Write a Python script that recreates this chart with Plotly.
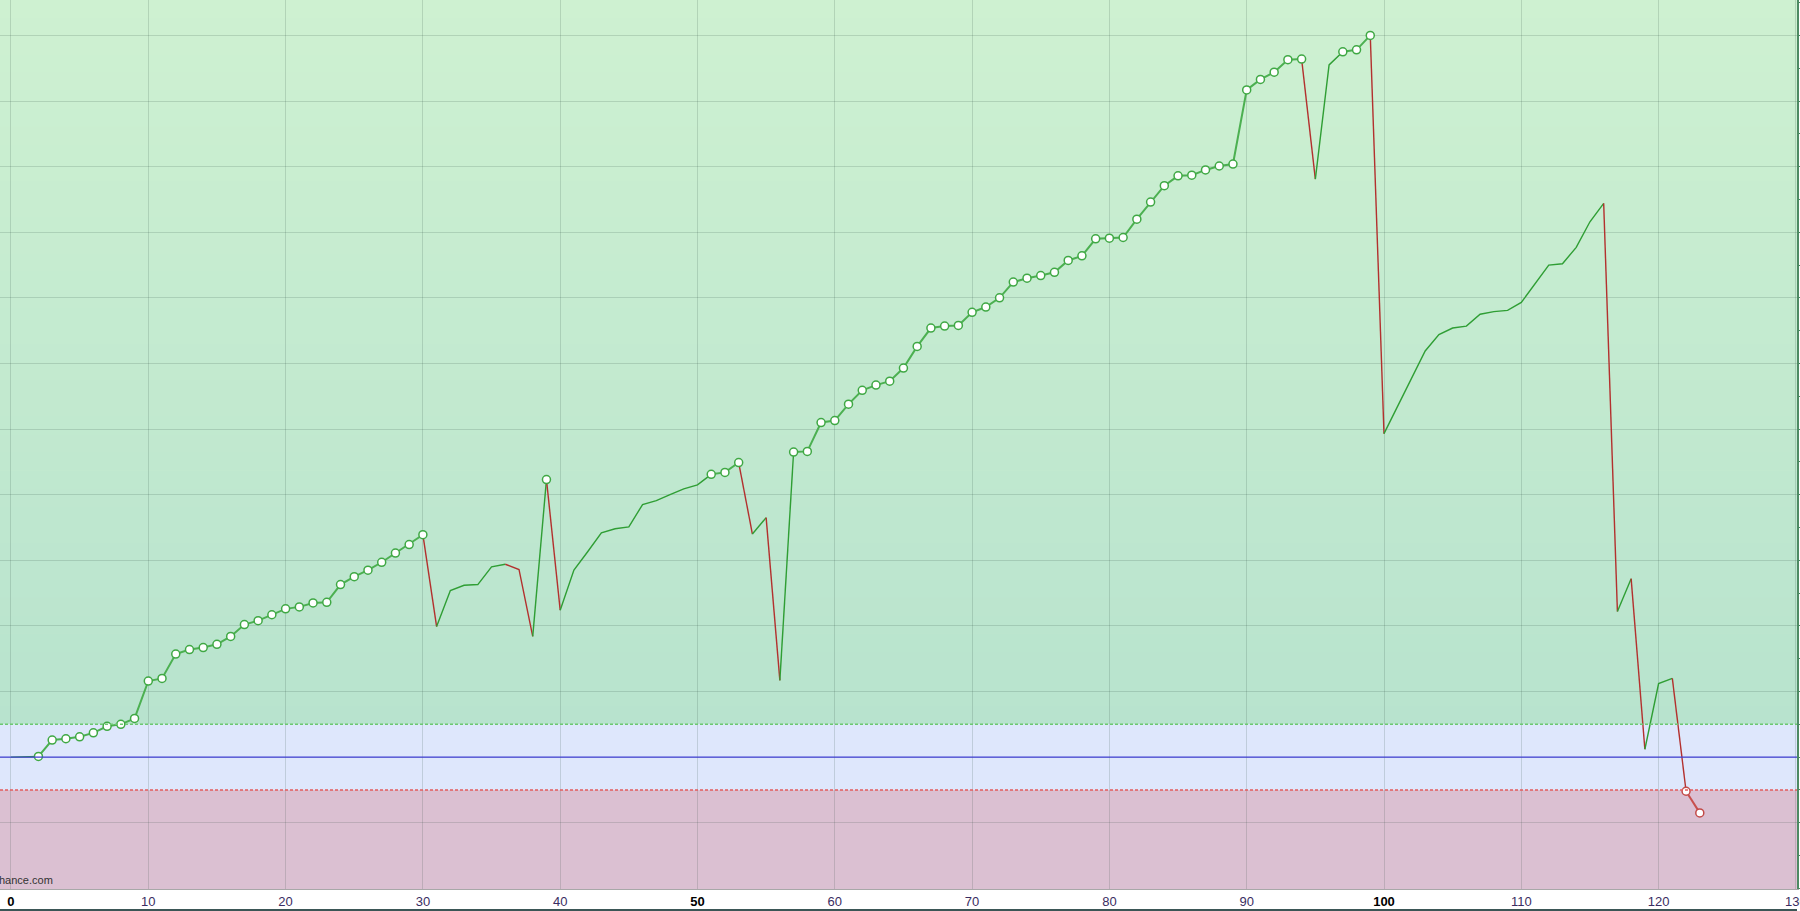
import plotly.graph_objects as go

# ---- data ----
equity = [
    0.00, 0.00, 0.01, 0.26, 0.28, 0.31, 0.37, 0.47, 0.50, 0.59,
    1.16, 1.20, 1.57, 1.64, 1.67, 1.72, 1.84, 2.02, 2.08, 2.17,
    2.26, 2.29, 2.35, 2.36, 2.63, 2.75, 2.85, 2.97, 3.11, 3.24,
    3.39, 1.99, 2.54, 2.62, 2.63, 2.90, 2.94, 2.86, 1.84, 4.23,
    2.24, 2.85, 3.13, 3.42, 3.48, 3.51, 3.85, 3.91, 4.00, 4.09,
    4.15, 4.31, 4.34, 4.49, 3.40, 3.65, 1.17, 4.65, 4.66, 5.10,
    5.13, 5.38, 5.59, 5.67, 5.73, 5.93, 6.26, 6.54, 6.57, 6.58,
    6.78, 6.86, 7.00, 7.24, 7.30, 7.34, 7.39, 7.57, 7.64, 7.90,
    7.91, 7.92, 8.20, 8.46, 8.71, 8.86, 8.87, 8.95, 9.01, 9.04,
    10.17, 10.33, 10.44, 10.63, 10.64, 8.81, 10.55, 10.75, 10.78, 11.00,
    4.93, 5.35, 5.77, 6.19, 6.44, 6.54, 6.57, 6.75, 6.79, 6.81,
    6.93, 7.22, 7.50, 7.52, 7.77, 8.16, 8.44, 2.22, 2.72, 0.12,
    1.12, 1.20, -0.52, -0.85,
]
trade_no = list(range(len(equity)))

upper_band = 0.5
lower_band = -0.5
baseline = 0.0

x_tick_vals = [0, 10, 20, 30, 40, 50, 60, 70, 80, 90, 100, 110, 120, 130]
x_tick_bold = [0, 50, 100]

# ---- styling ----
Y_MIN, Y_MAX = -2.01, 11.54
X_MIN, X_MAX = -0.80, 130.08

GREEN_THIN = "#2f9e34"
GREEN_THICK = "#4cb051"
RED_THIN = "#b3302e"
RED_THICK = "#c8504e"

# new highs / new lows (markers)
is_high = [False] * len(equity)
is_low = [False] * len(equity)
run_max = equity[0]
run_min = equity[0]
for i in range(1, len(equity)):
    if equity[i] > run_max:
        is_high[i] = True
        run_max = equity[i]
    if equity[i] < run_min:
        is_low[i] = True
        run_min = equity[i]
marked = [h or l for h, l in zip(is_high, is_low)]

fig = go.Figure()

def seg_style(i):
    up = equity[i + 1] >= equity[i]
    thick = marked[i] and marked[i + 1]
    return (up, thick)

i = 0
n = len(equity)
while i < n - 1:
    st = seg_style(i)
    j = i
    while j + 1 < n - 1 and seg_style(j + 1) == st:
        j += 1
    up, thick = st
    if up:
        col = GREEN_THICK if thick else GREEN_THIN
    else:
        col = RED_THICK if thick else RED_THIN
    fig.add_trace(go.Scatter(
        x=trade_no[i:j + 2], y=equity[i:j + 2], mode="lines",
        line=dict(color=col, width=2.0 if thick else 1.4),
        hoverinfo="skip", showlegend=False,
    ))
    i = j + 1

hx = [trade_no[k] for k in range(n) if is_high[k]]
hy = [equity[k] for k in range(n) if is_high[k]]
lx = [trade_no[k] for k in range(n) if is_low[k]]
ly = [equity[k] for k in range(n) if is_low[k]]
fig.add_trace(go.Scatter(
    x=hx, y=hy, mode="markers",
    marker=dict(size=8, color="white", line=dict(color="#3fa844", width=1.5)),
    showlegend=False,
))
fig.add_trace(go.Scatter(
    x=lx, y=ly, mode="markers",
    marker=dict(size=8, color="white", line=dict(color="#c24a48", width=1.5)),
    showlegend=False,
))

shapes = []
steps = 40
top_c = (206, 241, 209)
bot_c = (184, 227, 206)
span = Y_MAX - upper_band
for s in range(steps):
    y0 = upper_band + span * s / steps
    y1 = upper_band + span * (s + 1) / steps
    t = (s + 0.5) / steps
    c = tuple(round(bot_c[k] + (top_c[k] - bot_c[k]) * t) for k in range(3))
    shapes.append(dict(type="rect", xref="paper", yref="y", x0=0, x1=1,
                       y0=y0, y1=y1 + 0.01, fillcolor="rgb(%d,%d,%d)" % c,
                       line=dict(width=0), layer="below"))
shapes.append(dict(type="rect", xref="paper", yref="y", x0=0, x1=1,
                   y0=lower_band, y1=upper_band, fillcolor="rgb(222,231,252)",
                   line=dict(width=0), layer="below"))
shapes.append(dict(type="rect", xref="paper", yref="y", x0=0, x1=1,
                   y0=Y_MIN, y1=lower_band, fillcolor="rgb(219,192,210)",
                   line=dict(width=0), layer="below"))
shapes.append(dict(type="line", xref="paper", yref="y", x0=0, x1=1,
                   y0=upper_band, y1=upper_band,
                   line=dict(color="rgb(108,200,112)", width=1.5, dash="3px,2px")))
shapes.append(dict(type="line", xref="paper", yref="y", x0=0, x1=1,
                   y0=lower_band, y1=lower_band,
                   line=dict(color="rgb(228,92,92)", width=1.5, dash="3px,2px")))
shapes.append(dict(type="line", xref="paper", yref="y", x0=0, x1=1,
                   y0=baseline, y1=baseline,
                   line=dict(color="rgb(64,64,212)", width=1.3)))
shapes.append(dict(type="line", xref="paper", yref="paper", x0=0, x1=1,
                   y0=-0.0237, y1=-0.0237,
                   line=dict(color="#3b5656", width=2)))

tick_text = []
for v in x_tick_vals:
    if v in x_tick_bold:
        tick_text.append("<b><span style='color:#000000'>%d</span></b>" % v)
    else:
        tick_text.append(str(v))

fig.update_layout(
    width=1800, height=911,
    margin=dict(l=0, r=3, t=0, b=22, autoexpand=False),
    paper_bgcolor="white",
    plot_bgcolor="rgb(205,240,208)",
    shapes=shapes,
    font=dict(family="Liberation Sans, Arial, sans-serif"),
    xaxis=dict(
        range=[X_MIN, X_MAX], tickvals=x_tick_vals, ticktext=tick_text,
        showgrid=True, gridcolor="rgba(40,70,60,0.17)", gridwidth=1,
        zeroline=False, showline=True, linecolor="#a8a8a8", linewidth=1,
        ticks="", tickfont=dict(size=13, color="#3a2d62"),
        ticklabeloverflow="allow", automargin=False,
    ),
    yaxis=dict(
        range=[Y_MIN, Y_MAX], dtick=1, tick0=0, side="right",
        showgrid=True, gridcolor="rgba(40,70,60,0.17)", gridwidth=1,
        zeroline=False, showline=True, linecolor="#4d8a63", linewidth=1.5,
        ticks="outside", ticklen=3, tickcolor="#4d8a63",
        showticklabels=False, automargin=False,
        minor=dict(dtick=0.5, ticks="outside", ticklen=3, tickcolor="#4d8a63",
                   showgrid=False),
    ),
    annotations=[dict(
        xref="paper", yref="paper", x=0, y=0, xanchor="left", yanchor="bottom",
        text="hance.com", showarrow=False, xshift=-3, yshift=1,
        font=dict(size=11, color="#333333"),
    )],
)

fig.write_html("out.html", config={"displayModeBar": False},
               post_script="document.body.style.margin='0';document.body.style.overflow='hidden';")
